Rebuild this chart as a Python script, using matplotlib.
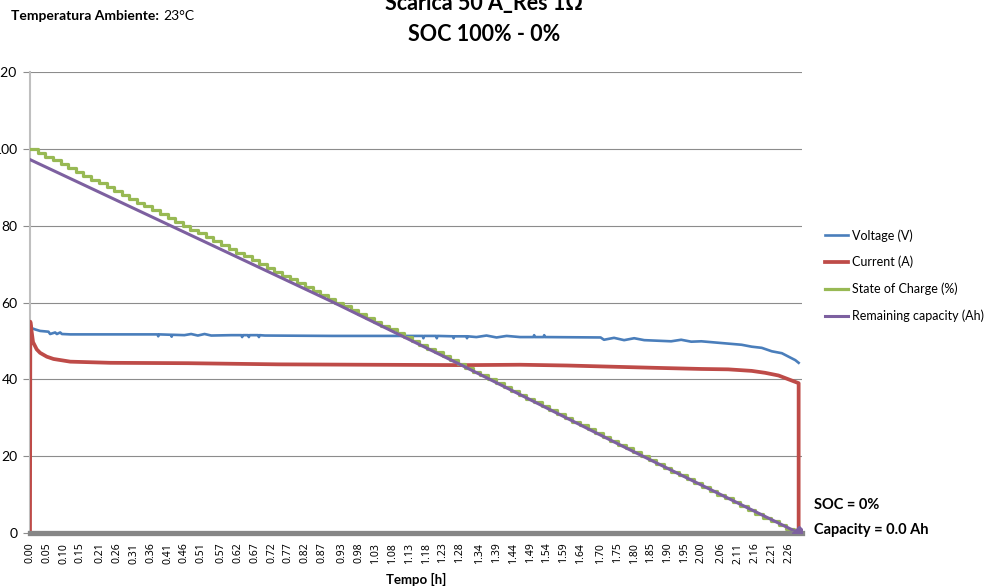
import numpy as np
import matplotlib
matplotlib.use('Agg')
import matplotlib.pyplot as plt

plt.rcParams['font.family'] = ['Lato', 'DejaVu Sans']

# Voltage (V) vs time (h)
volt_t = [0.000, 0.015, 0.030, 0.055, 0.060, 0.075, 0.080, 0.090, 0.095, 0.120,
          0.380, 0.382, 0.385, 0.420, 0.422, 0.424, 0.460, 0.480, 0.500, 0.520,
          0.540, 0.600, 0.630, 0.632, 0.634, 0.650, 0.652, 0.654, 0.680, 0.682,
          0.684, 0.700, 0.900, 1.100, 1.170, 1.172, 1.174, 1.210, 1.212, 1.214,
          1.260, 1.262, 1.264, 1.300, 1.302, 1.304, 1.330, 1.360, 1.390, 1.420,
          1.460, 1.500, 1.502, 1.504, 1.530, 1.532, 1.534, 1.700, 1.710, 1.740,
          1.770, 1.800, 1.830, 1.910, 1.940, 1.970, 2.000, 2.080, 2.120, 2.150,
          2.180, 2.210, 2.240, 2.260, 2.280, 2.290]
volt_v = [53.5, 53.0, 52.6, 52.4, 51.8, 52.2, 51.8, 52.2, 51.8, 51.7,
          51.7, 51.2, 51.7, 51.6, 51.1, 51.6, 51.5, 51.8, 51.4, 51.8,
          51.4, 51.5, 51.5, 51.0, 51.5, 51.5, 51.0, 51.5, 51.5, 51.0,
          51.5, 51.4, 51.3, 51.3, 51.3, 50.7, 51.3, 51.3, 50.7, 51.3,
          51.2, 50.7, 51.2, 51.2, 50.7, 51.2, 51.0, 51.4, 50.9, 51.3,
          51.0, 51.0, 51.5, 51.0, 51.0, 51.5, 51.0, 50.9, 50.3, 50.8,
          50.2, 50.7, 50.2, 49.9, 50.3, 49.8, 49.9, 49.3, 49.0, 48.5,
          48.2, 47.3, 46.8, 45.9, 45.0, 44.3]

# Current (A)
curr_t = [0.000, 0.001, 0.004, 0.009, 0.020, 0.030, 0.050, 0.070, 0.120, 0.240,
          0.470, 0.740, 1.000, 1.300, 1.460, 1.600, 1.730, 1.860, 2.000, 2.080,
          2.150, 2.190, 2.230, 2.260, 2.290, 2.290]
curr_a = [0.0, 55.0, 53.0, 49.7, 47.8, 46.9, 45.9, 45.3, 44.6, 44.3,
          44.2, 43.9, 43.8, 43.7, 43.8, 43.6, 43.3, 43.0, 42.7, 42.6,
          42.2, 41.7, 41.0, 40.0, 39.0, 0.0]

# State of charge (%), one step per percent
soc_t = [0.000, 0.023, 0.046, 0.068, 0.091, 0.114, 0.137, 0.159, 0.182, 0.205,
         0.228, 0.250, 0.273, 0.296, 0.319, 0.341, 0.364, 0.387, 0.410, 0.432,
         0.455, 0.478, 0.501, 0.523, 0.546, 0.569, 0.592, 0.614, 0.637, 0.660,
         0.683, 0.705, 0.728, 0.751, 0.774, 0.796, 0.819, 0.842, 0.865, 0.887,
         0.910, 0.933, 0.956, 0.978, 1.001, 1.024, 1.047, 1.069, 1.092, 1.115,
         1.138, 1.160, 1.183, 1.206, 1.229, 1.251, 1.274, 1.297, 1.320, 1.342,
         1.365, 1.388, 1.411, 1.433, 1.456, 1.479, 1.502, 1.524, 1.547, 1.570,
         1.593, 1.615, 1.638, 1.661, 1.684, 1.706, 1.729, 1.752, 1.775, 1.797,
         1.820, 1.843, 1.866, 1.888, 1.911, 1.934, 1.957, 1.979, 2.002, 2.025,
         2.048, 2.070, 2.093, 2.116, 2.139, 2.161, 2.184, 2.207, 2.230, 2.252,
         2.275, 2.285]
soc_pct = [100, 99, 98, 97, 96, 95, 94, 93, 92, 91,
           90, 89, 88, 87, 86, 85, 84, 83, 82, 81,
           80, 79, 78, 77, 76, 75, 74, 73, 72, 71,
           70, 69, 68, 67, 66, 65, 64, 63, 62, 61,
           60, 59, 58, 57, 56, 55, 54, 53, 52, 51,
           50, 49, 48, 47, 46, 45, 44, 43, 42, 41,
           40, 39, 38, 37, 36, 35, 34, 33, 32, 31,
           30, 29, 28, 27, 26, 25, 24, 23, 22, 21,
           20, 19, 18, 17, 16, 15, 14, 13, 12, 11,
           10, 9, 8, 7, 6, 5, 4, 3, 2, 1,
           0, 0]

# Remaining capacity (Ah)
cap_t = [0.00, 0.37, 0.90, 1.29, 1.77, 2.29]
cap_ah = [97.2, 82.0, 60.2, 43.5, 22.4, 0.0]

time_labels = ['0.00', '0.05', '0.10', '0.15', '0.21', '0.26', '0.31', '0.36', '0.41',
               '0.46', '0.51', '0.57', '0.62', '0.67', '0.72', '0.77', '0.82', '0.87',
               '0.93', '0.98', '1.03', '1.08', '1.13', '1.18', '1.23', '1.28', '1.34',
               '1.39', '1.44', '1.49', '1.54', '1.59', '1.64', '1.70', '1.75', '1.80',
               '1.85', '1.90', '1.95', '2.00', '2.06', '2.11', '2.16', '2.21', '2.26']

c_volt = '#4A7EBB'
c_curr = '#BE4B48'
c_soc = '#98B954'
c_cap = '#7D60A0'

fig = plt.figure(figsize=(9.92, 5.87), dpi=100)
ax = fig.add_axes([30/992, 1-533/587, 772/992, 461/587])

ax.plot(volt_t, volt_v, color=c_volt, lw=1.9, label='Voltage (V)', zorder=3)
ax.plot(curr_t, curr_a, color=c_curr, lw=2.7, label='Current (A)', zorder=3)
ax.plot(soc_t, soc_pct, color=c_soc, lw=2.3, drawstyle='steps-post',
        label='State of Charge (%)', zorder=3)
ax.plot(cap_t, cap_ah, color=c_cap, lw=2.2, label='Remaining capacity (Ah)', zorder=4)
ax.plot(cap_t[-1], cap_ah[-1], marker='D', ms=7, color=c_cap, zorder=7)

ax.set_xlim(0, 2.30)
ax.set_ylim(0, 120)
ax.set_yticks(np.arange(0, 121, 20))
ax.yaxis.grid(True, color='#8C8C8C', lw=0.8)
ax.set_axisbelow(True)

ax.set_xticks([float(s) for s in time_labels])
ax.set_xticklabels(time_labels, rotation=90, fontsize=7.5, family='Noto Sans')
ax.tick_params(axis='x', length=0, pad=7)
ax.tick_params(axis='y', length=5, width=0.8, color='#8C8C8C', labelsize=10, pad=4)

for s in ['top', 'right']:
    ax.spines[s].set_visible(False)
ax.spines['left'].set_color('#BFBFBF')
ax.spines['left'].set_linewidth(1.5)
ax.spines['bottom'].set_color('#868686')
ax.spines['bottom'].set_linewidth(3.8)
ax.spines['bottom'].set_zorder(6)

fig.legend(loc='upper left', bbox_to_anchor=(825/992, 1-229/587), frameon=False,
           fontsize=9, handlelength=1.85, handletextpad=0.3, labelspacing=1.15,
           borderpad=0, borderaxespad=0)

# titles and notes
fig.text(484/992, 1-10/587, 'Scarica 50 A_Res 1Ω', ha='center', va='baseline',
         fontsize=15.5, fontweight='bold')
fig.text(484/992, 1-40.7/587, 'SOC 100% - 0%', ha='center', va='baseline',
         fontsize=15.5, fontweight='bold')
fig.text(11/992, 1-20.5/587, 'Temperatura Ambiente:', ha='left', va='baseline',
         fontsize=10, fontweight='bold')
fig.text(163/992, 1-20.5/587, '23°C', ha='left', va='baseline', fontsize=10)
fig.text(416/992, 1-579/587, 'Tempo [h]', ha='center', va='center',
         fontsize=9.5, fontweight='bold')
fig.text(814/992, 1-505/587, 'SOC = 0%', ha='left', va='center',
         fontsize=10.5, fontweight='bold')
fig.text(814/992, 1-530/587, 'Capacity = 0.0 Ah', ha='left', va='center',
         fontsize=10.5, fontweight='bold')

fig.savefig('out.png', dpi=100)
